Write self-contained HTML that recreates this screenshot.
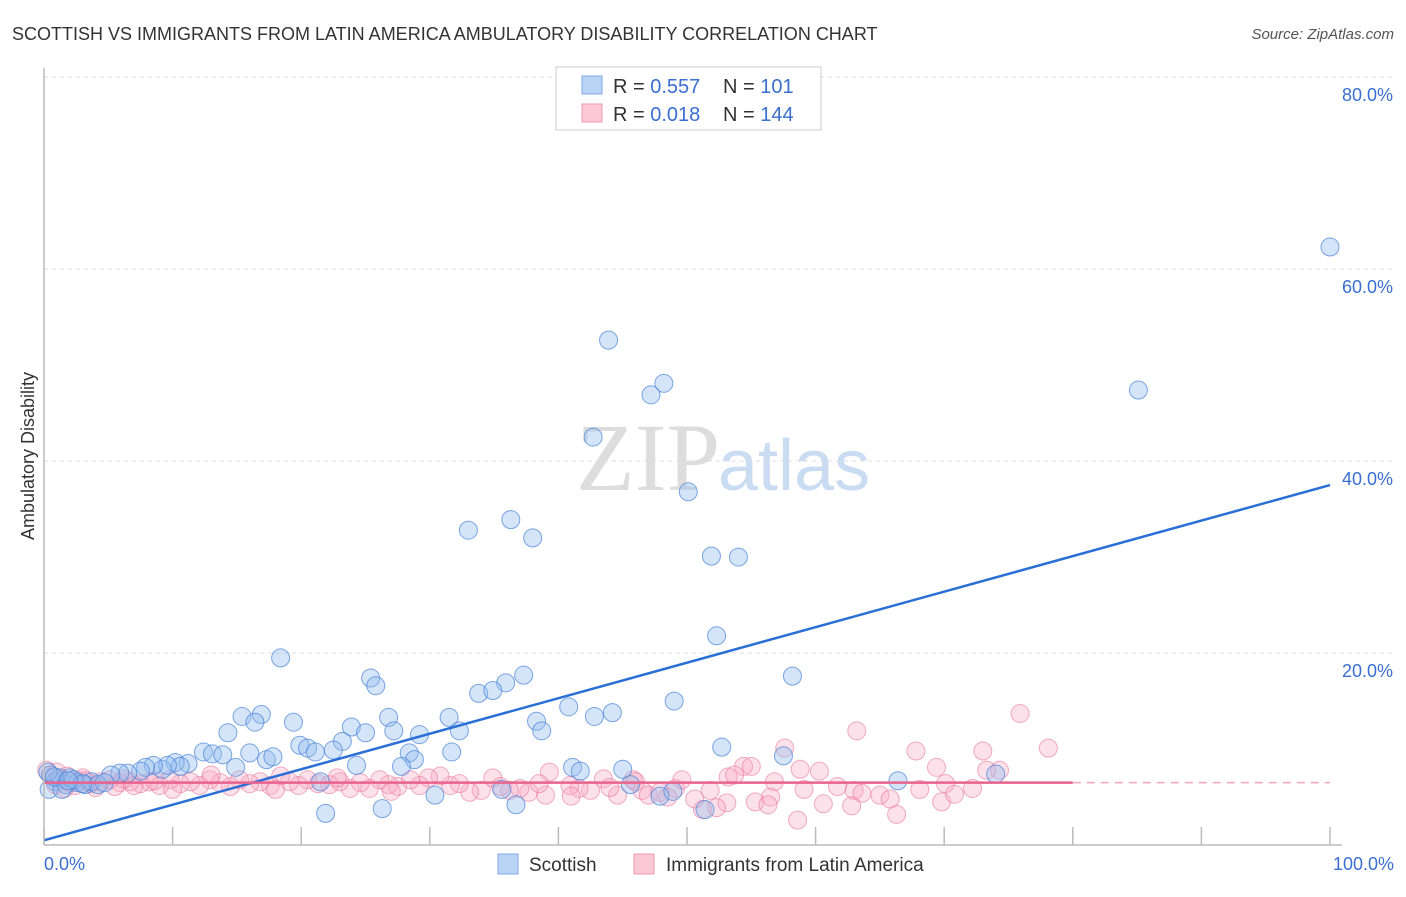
<!DOCTYPE html>
<html><head><meta charset="utf-8"><style>
body{margin:0;background:#fff;font-family:"Liberation Sans",sans-serif;}
</style></head><body>
<svg width="1406" height="892" xmlns="http://www.w3.org/2000/svg" id="chart">
<text x="12" y="40" font-size="18" fill="#333">SCOTTISH VS IMMIGRANTS FROM LATIN AMERICA AMBULATORY DISABILITY CORRELATION CHART</text>
<text x="1394" y="39" font-size="15" fill="#555" text-anchor="end" font-style="italic">Source: ZipAtlas.com</text>
<text x="720" y="490" font-size="96" fill="#ddd" text-anchor="end" font-family="Liberation Serif">ZIP</text>
<text x="718" y="490" font-size="72" fill="#c9dcf2">atlas</text>
<text transform="translate(34,456) rotate(-90)" font-size="18" fill="#333" text-anchor="middle">Ambulatory Disability</text>
<g id="grid"></g><g id="pts"></g><g id="lines"></g>
<line x1="44" y1="845" x2="1342" y2="845" stroke="#bbb" stroke-width="1.5"/>
<line x1="44" y1="68" x2="44" y2="845" stroke="#bbb" stroke-width="1.5"/>
<text x="44" y="870" font-size="18" fill="#3a6fd0">0.0%</text>
<text x="1394" y="870" font-size="18" fill="#3a6fd0" text-anchor="end">100.0%</text>
<g>
<rect x="556" y="67" width="265" height="63" fill="#fff" stroke="#ccc"/>
<rect x="582" y="76" width="20" height="18" fill="#b9d3f5" stroke="#7da8e3"/>
<rect x="582" y="104" width="20" height="18" fill="#fbc8d6" stroke="#ef98b2"/>
<text x="613" y="93" font-size="20" fill="#333">R = <tspan fill="#3a6fd0">0.557</tspan><tspan x="723">N = </tspan><tspan fill="#3a6fd0">101</tspan></text>
<text x="613" y="121" font-size="20" fill="#333">R = <tspan fill="#3a6fd0">0.018</tspan><tspan x="723">N = </tspan><tspan fill="#3a6fd0">144</tspan></text>
</g>
<g>
<rect x="498" y="854" width="20" height="20" fill="#b9d3f5" stroke="#7da8e3"/>
<text x="529" y="871" font-size="19" fill="#333">Scottish</text>
<rect x="634" y="854" width="20" height="20" fill="#fbc8d6" stroke="#ef98b2"/>
<text x="666" y="871" font-size="19" fill="#333">Immigrants from Latin America</text>
</g>
</svg>
<script>
const yTicks=[20,40,60,80];
const xTicks=[0,10,20,30,40,50,60,70,80,90,100];
const blueX=[100,85.1,43.9,48.2,47.2,42.7,50.1,33.0,36.3,38.0,51.9,54.0,52.3,18.4,58.2,37.3,35.9,33.8,34.9,25.4,25.8,40.8,42.8,44.2,49.0,15.4,16.9,16.4,19.4,14.3,26.8,31.5,23.9,25.0,27.2,38.3,38.7,32.3,29.2,23.2,22.5,19.9,20.5,21.1,16.0,17.3,17.8,12.4,13.1,13.9,14.9,28.4,28.8,27.8,31.7,24.3,52.7,57.5,41.1,41.7,45.0,11.2,10.2,10.6,9.2,9.6,8.5,7.9,7.5,6.5,5.9,5.2,30.4,36.7,21.9,26.3,35.6,45.6,47.9,48.9,51.4,66.4,74.0,21.5,0.5,0.9,1.2,1.7,2.0,2.6,3.2,3.7,4.2,4.7,0.4,1.4,0.3,2.3,3.0,0.8,1.9];
const blueY=[62.5,47.6,52.8,48.3,47.1,42.7,37.0,33.0,34.1,32.2,30.3,30.2,22.0,19.7,17.8,17.9,17.1,16.0,16.3,17.6,16.8,14.6,13.6,14.0,15.2,13.6,13.8,13.0,13.0,11.9,13.5,13.5,12.5,11.9,12.1,13.1,12.1,12.1,11.7,11.0,10.1,10.6,10.3,9.9,9.8,9.1,9.4,9.9,9.7,9.6,8.3,9.8,9.1,8.4,9.9,8.5,10.4,9.5,8.3,7.9,8.1,8.7,8.8,8.4,8.1,8.5,8.5,8.3,7.9,7.7,7.7,7.5,5.4,4.4,3.5,4.0,6.0,6.5,5.3,5.8,3.9,6.9,7.6,6.8,7.5,6.8,7.2,6.5,7.2,6.7,6.5,6.8,6.5,6.7,6.0,6.0,7.8,7.0,6.6,7.3,6.9];
const pinkX=[75.9,78.1,63.2,67.8,73.0,57.6,69.4,74.3,73.3,54.4,55.0,60.3,58.8,53.2,53.7,56.8,59.1,61.7,63.0,63.6,65.0,65.8,68.1,70.1,72.2,69.8,70.8,66.3,62.8,60.6,55.3,56.5,58.6,56.3,53.1,52.3,51.2,50.6,49.1,49.6,46.5,47.0,44.6,43.5,45.8,42.5,41.6,40.9,39.3,39.0,37.7,37.0,36.2,34.9,34.0,33.1,32.3,31.6,30.8,29.9,29.2,28.5,27.5,26.8,26.1,25.3,24.6,23.8,23.0,22.2,21.3,20.5,19.8,19.1,18.4,17.6,16.8,16.0,15.2,14.5,13.7,12.9,12.1,11.4,10.6,9.8,9.0,8.2,7.5,6.7,5.9,5.1,4.4,3.6,2.8,2.0,1.2,0.5,0.2,0.9,1.6,2.4,47.9,48.5,51.8,44.0,41.0,46.0,38.5,35.5,27.0,22.8,18.0,10.0,13.0,3.0,4.0,6.2,7.0,8.6,1.0,1.8,3.3,5.5];
const pinkY=[13.9,10.3,12.1,10.0,10.0,10.3,8.3,8.0,8.0,8.4,8.4,7.9,8.1,7.3,7.5,6.8,6.0,6.3,5.9,5.6,5.4,5.0,6.0,6.6,6.1,4.7,5.5,3.4,4.3,4.5,4.7,5.2,2.8,4.4,4.6,4.1,3.9,5.0,6.1,7.0,5.9,5.4,5.4,7.1,7.0,5.9,6.1,6.4,7.8,5.4,5.7,6.1,5.9,7.2,5.9,5.7,6.6,6.4,7.4,7.2,6.4,7.0,6.3,6.5,7.0,6.1,6.7,6.1,6.8,6.5,6.6,7.0,6.4,6.8,7.4,6.4,6.8,6.6,7.0,6.3,6.7,7.0,6.4,6.8,6.6,7.0,6.4,6.8,6.6,6.8,6.7,7.0,6.8,6.6,6.9,6.7,7.0,7.5,8.0,6.5,6.1,6.4,5.7,5.2,5.9,6.2,5.3,6.8,6.6,6.3,5.8,7.2,6.0,6.0,7.5,7.2,6.2,7.1,6.4,6.9,7.8,7.4,6.9,6.3];
const blueTrend=[0.7,37.7];
const pinkTrend=[6.7,6.7];
const X=v=>44+v*12.86, Y=v=>847-v*9.6;
const NS='http://www.w3.org/2000/svg';
function mk(tag,attrs,parent){const e=document.createElementNS(NS,tag);for(const k in attrs)e.setAttribute(k,attrs[k]);document.getElementById(parent).appendChild(e);return e;}
yTicks.forEach(t=>{
 const l=mk('line',{x1:44,x2:1394,y1:Y(t)-2,y2:Y(t)-2,stroke:'#ddd','stroke-dasharray':'4,4'},'grid');
 
 
 const tx=mk('text',{x:1393,y:Y(t)+22,'font-size':18,fill:'#3a6fd0','text-anchor':'end'},'grid');
 tx.textContent=t.toFixed(1)+'%';
 
 
});
xTicks.forEach(t=>{
 const l=mk('line',{x1:X(t),x2:X(t),y1:827,y2:845,stroke:'#bbb','stroke-width':1.5},'grid');
 
 
});
pinkX.forEach((x,i)=>{
 const c=mk('circle',{cx:X(x),cy:Y(pinkY[i]),r:9,fill:'rgba(248,170,195,0.35)',stroke:'rgba(232,120,155,0.6)','stroke-width':1},'pts');
 
 
});
blueX.forEach((x,i)=>{
 const c=mk('circle',{cx:X(x),cy:Y(blueY[i]),r:9,fill:'rgba(150,190,240,0.4)',stroke:'rgba(70,130,215,0.7)','stroke-width':1},'pts');
 
 
});
const bl=mk('line',{x1:X(0),y1:Y(blueTrend[0]),x2:X(100),y2:Y(blueTrend[1]),stroke:'#2a6fd6','stroke-width':2.5},'lines');


const pl=mk('line',{x1:X(0),y1:Y(pinkTrend[0]),x2:X(80),y2:Y(pinkTrend[1]),stroke:'#e8638d','stroke-width':2.5},'lines');


const pd=mk('line',{x1:X(80),y1:Y(pinkTrend[0]),x2:X(100),y2:Y(pinkTrend[1]),stroke:'#f0a5bd','stroke-width':1.5,'stroke-dasharray':'8,6'},'lines');


</script>
</body></html>
